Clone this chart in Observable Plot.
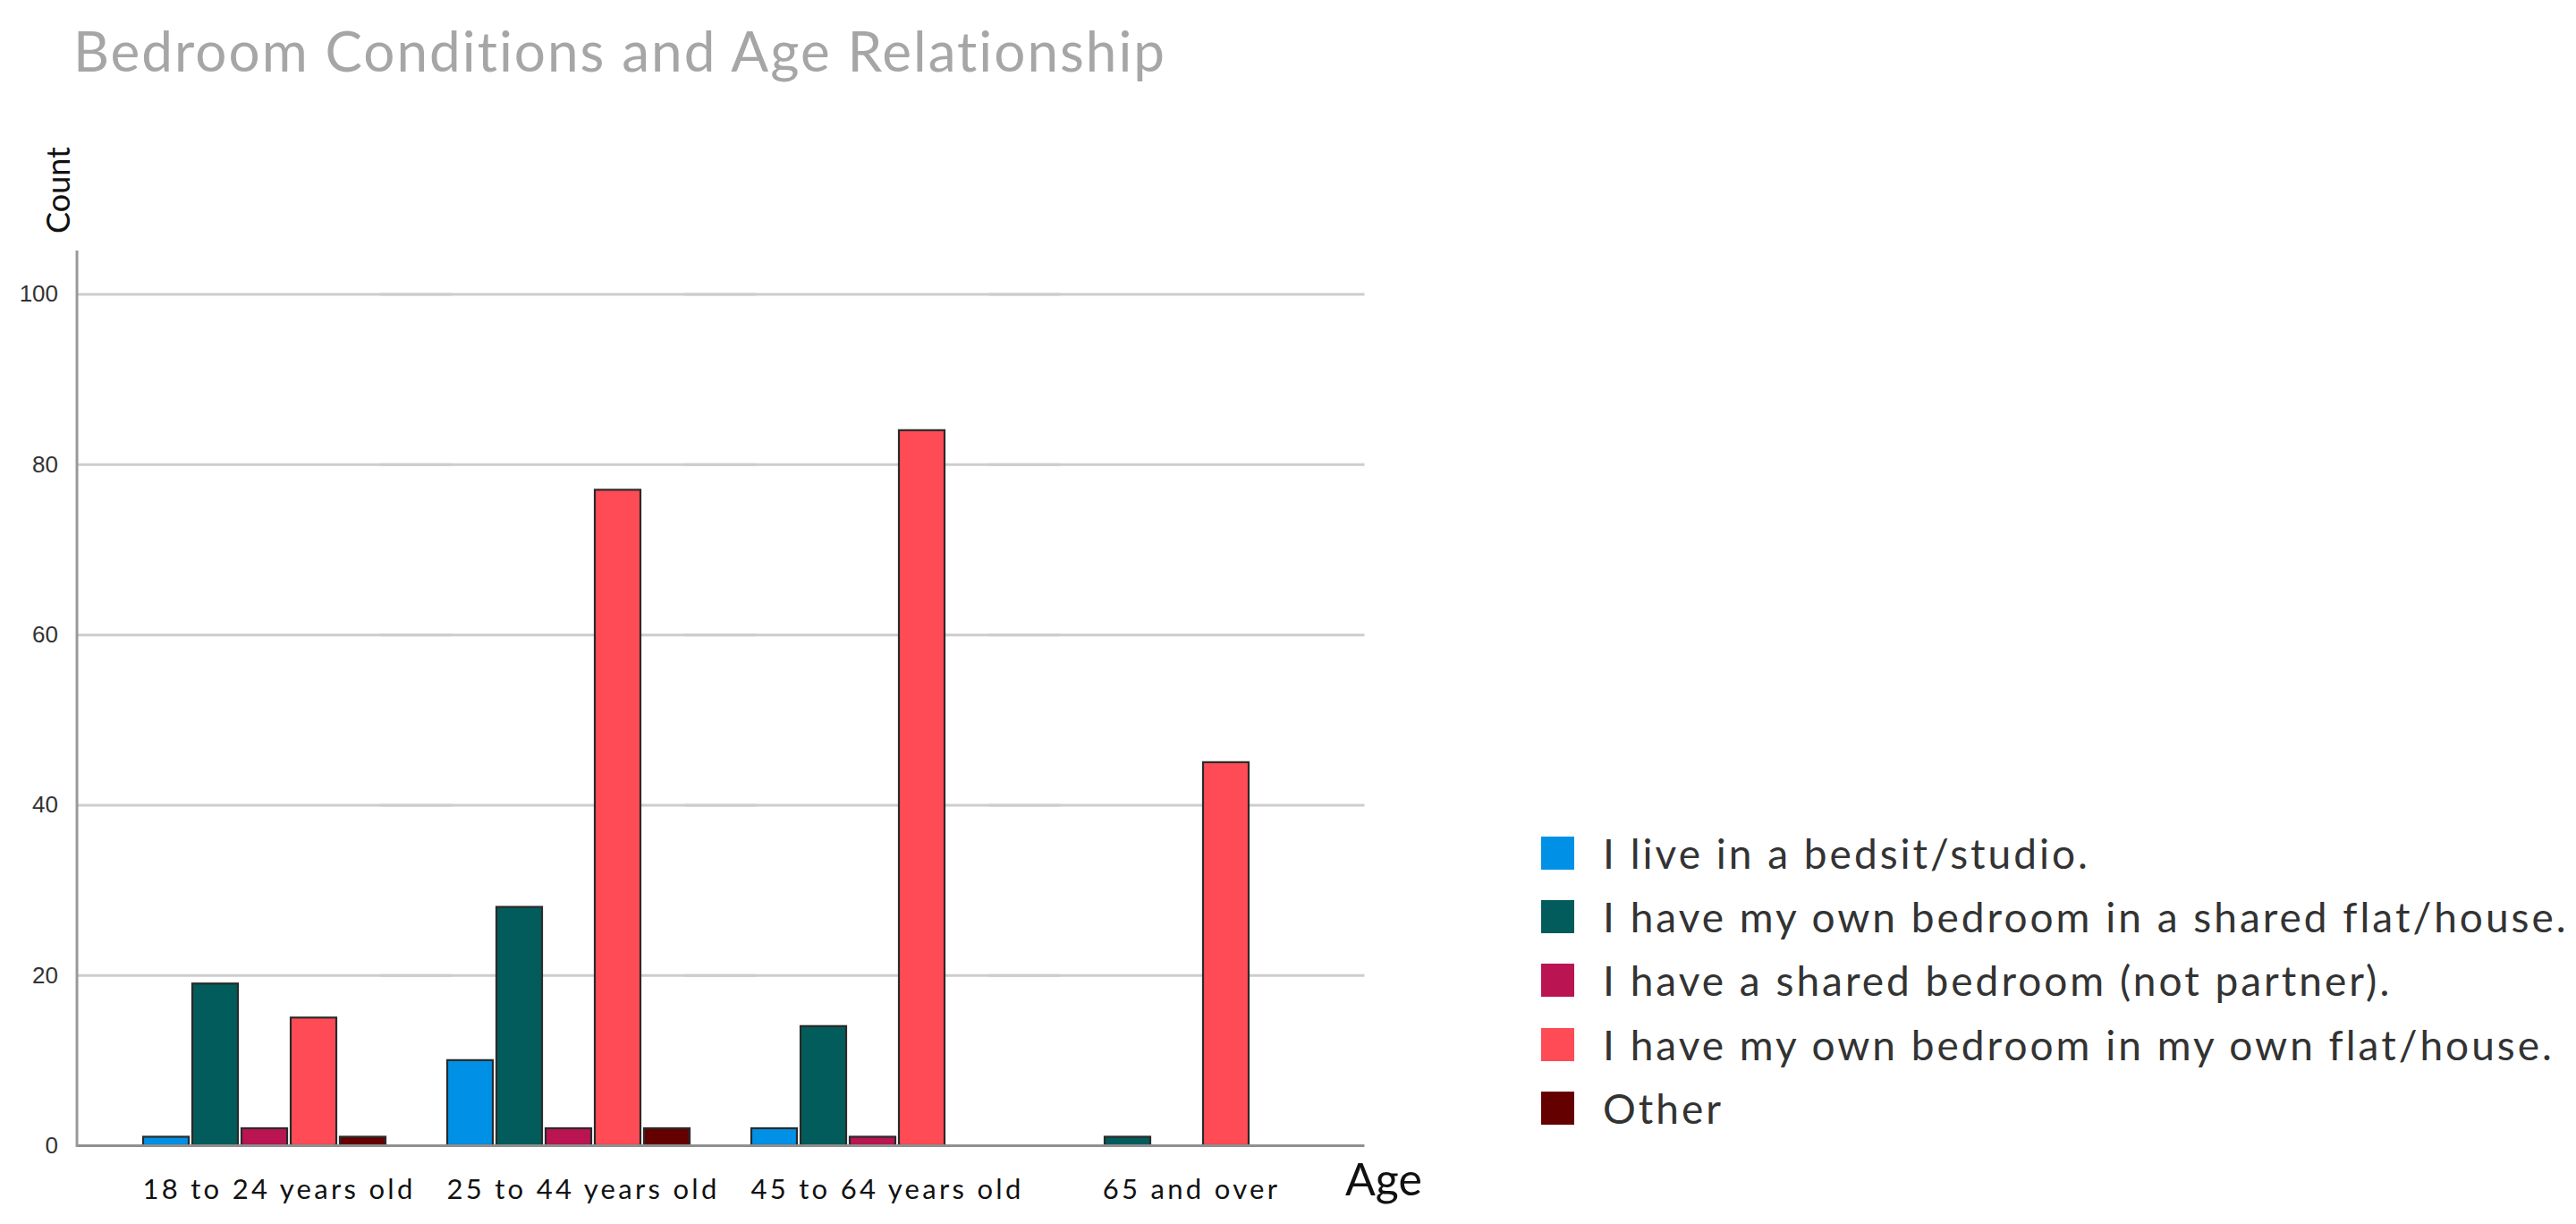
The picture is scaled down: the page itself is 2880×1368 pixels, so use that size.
<!DOCTYPE html>
<html>
<head>
<meta charset="utf-8">
<script src="https://cdn.jsdelivr.net/npm/d3@7"></script>
<script src="https://cdn.jsdelivr.net/npm/@observablehq/plot@0.6"></script>
<style>
  body { margin: 0; background: #fff; }
  #wrap { position: relative; width: 2880px; height: 1368px; font-family: Lato, "Noto Sans", sans-serif; overflow: hidden; }
  #title { position: absolute; left: 82px; top: 6px; height: 100px; font-size: 62px; letter-spacing: 2px; color: #a6a6a6; white-space: nowrap; line-height: 100px; }
  #chart { position: absolute; left: 0; top: 120px; }
  #chart g[aria-label="fx-axis tick label"] text { letter-spacing: 3.3px; }
  #legend { position: absolute; left: 1723px; top: 918px; }
  .row { display: flex; align-items: center; height: 71.2px; }
  .sw { width: 37px; height: 37px; margin-right: 32px; flex: none; }
  .lab { font-size: 46px; letter-spacing: 3px; color: #333; white-space: nowrap; }
</style>
</head>
<body>
<div id="wrap">
  <div id="title">Bedroom Conditions and Age Relationship</div>
  <div id="chart"></div>
  <div id="legend"></div>
</div>
<script>
// ---- data ----
const ages = ["18 to 24 years old", "25 to 44 years old", "45 to 64 years old", "65 and over"];
const conditions = [
  "I live in a bedsit/studio.",
  "I have my own bedroom in a shared flat/house.",
  "I have a shared bedroom (not partner).",
  "I have my own bedroom in my own flat/house.",
  "Other"
];
const colors = ["#0091e6", "#035c5c", "#bb1453", "#ff4b55", "#650000"];
const studio        = [1, 10, 2, 0];
const sharedFlat    = [19, 28, 14, 1];
const sharedBedroom = [2, 2, 1, 0];
const ownFlat       = [15, 77, 84, 45];
const other         = [1, 2, 0, 0];
const yTicks = [0, 20, 40, 60, 80, 100];
const titleText = "Bedroom Conditions and Age Relationship";
const yLabel = "Count";
const xLabel = "Age";

const series = [studio, sharedFlat, sharedBedroom, ownFlat, other];
const data = [];
ages.forEach((age, i) => {
  conditions.forEach((cond, j) => {
    data.push({age, cond, count: series[j][i]});
  });
});

// layout
const W = 1680, H = 1248, ML = 85, MR = 155, MT = 161, MB = 88;
const fxPadIn = 0.203, fxPadOut = 0.219;
const step = (W - ML - MR) / (ages.length - fxPadIn + 2 * fxPadOut);
const ext = fxPadOut * step; // distance from the outer facets to the frame edges

const chart = Plot.plot({
  width: W,
  height: H,
  marginLeft: ML,
  marginRight: MR,
  marginTop: MT,
  marginBottom: MB,
  style: {fontFamily: "Lato, 'Noto Sans', sans-serif", background: "transparent"},
  fx: {domain: ages, paddingInner: fxPadIn, paddingOuter: fxPadOut, label: null},
  x: {domain: conditions, paddingInner: 0.073, paddingOuter: 0, axis: null},
  y: {domain: [0, 105], axis: null},
  color: {domain: conditions, range: colors},
  marks: [
    Plot.ruleY(yTicks.filter(d => d > 0), {stroke: "#cdcdcd", strokeWidth: 3, insetLeft: -ext, insetRight: -ext}),
    Plot.barY(data.filter(d => d.count > 0), {
      fx: "age", x: "cond", y: "count", fill: "cond",
      stroke: "#2a2a2a", strokeWidth: 2.2
    }),
    Plot.ruleY([0], {stroke: "#8f8f8f", strokeWidth: 3, insetLeft: -ext, insetRight: -ext}),
    Plot.frame({anchor: "left", facet: "super", stroke: "#9a9a9a", strokeWidth: 3, insetLeft: -ext}),
    Plot.text(yTicks, {
      fx: () => ages[0], y: d => d, text: d => String(d), frameAnchor: "left",
      textAnchor: "end", dx: -ext - 21, fontSize: 26, fill: "#333",
      fontFamily: "'Liberation Sans', Arial, sans-serif"
    }),
    Plot.axisFx({
      anchor: "bottom", tickSize: 0, tickPadding: 37, fontSize: 31, fill: "#111", label: null, dx: 16
    }),
    Plot.text([xLabel], {
      facet: "super", frameAnchor: "bottom-right", text: d => d,
      textAnchor: "start", lineAnchor: "bottom", dx: ext - 22, dy: 55, fontSize: 50, fill: "#111"
    }),
    Plot.text([yLabel], {
      facet: "super", frameAnchor: "top-left", text: d => d, rotate: -90,
      textAnchor: "middle", lineAnchor: "middle", dx: -ext - 20, dy: -69, fontSize: 36, fill: "#111"
    })
  ]
});
document.getElementById("chart").appendChild(chart);

const legend = document.getElementById("legend");
conditions.forEach((c, i) => {
  const row = document.createElement("div");
  row.className = "row";
  const sw = document.createElement("div");
  sw.className = "sw";
  sw.style.background = colors[i];
  const lab = document.createElement("div");
  lab.className = "lab";
  lab.textContent = c;
  row.appendChild(sw);
  row.appendChild(lab);
  legend.appendChild(row);
});
</script>
</body>
</html>
